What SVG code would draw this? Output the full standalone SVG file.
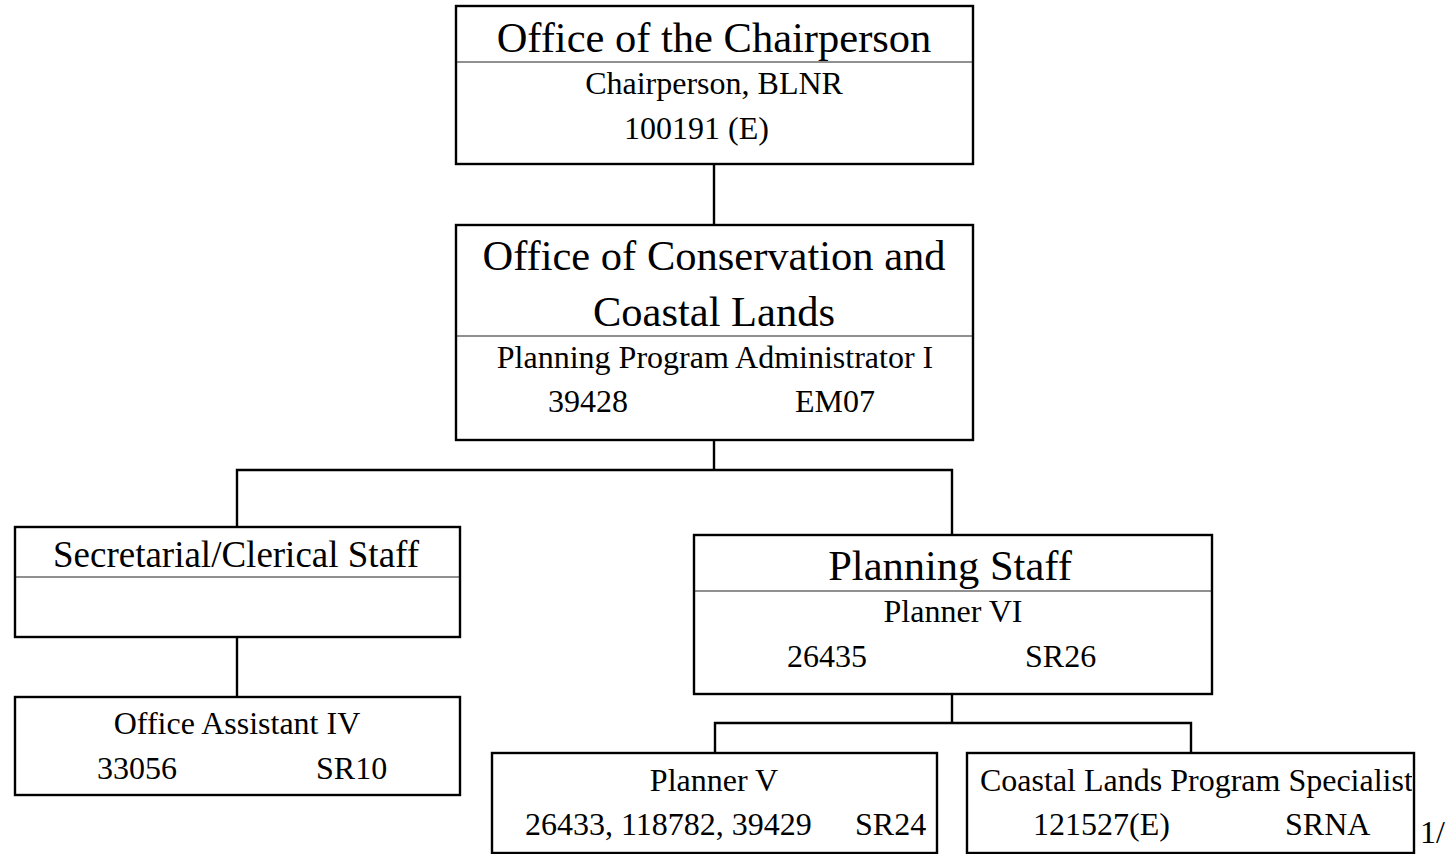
<svg xmlns="http://www.w3.org/2000/svg" width="1451" height="854" viewBox="0 0 1451 854">
<style>
.box{fill:#fff;stroke:#000;stroke-width:2.4}
.div{stroke:#222;stroke-width:1.2}
.conn{fill:none;stroke:#000;stroke-width:2.4}
text{font-family:"Liberation Serif","Times New Roman",serif;fill:#000}
.t{font-size:42.5px}
.t2{font-size:37px}
.s{font-size:32px}
.c{text-anchor:middle}
</style>
<defs>
<clipPath id="clipCoastal"><rect x="967" y="753" width="445" height="100"/></clipPath>
</defs>
<rect width="1451" height="854" fill="#fff"/>
<g id="connectors">
<path class="conn" d="M714 164 V225"/>
<path class="conn" d="M714 440 V470 M237 527 V470 H952 V535"/>
<path class="conn" d="M237 637 V697"/>
<path class="conn" d="M952 694 V723 M715 753 V723 H1191 V753"/>
</g>
<g id="chair">
<rect class="box" x="456" y="6" width="517" height="158"/>
<line class="div" x1="457" y1="62" x2="972" y2="62"/>
<text class="t c" x="714" y="52">Office of the Chairperson</text>
<text class="s c" x="714" y="94">Chairperson, BLNR</text>
<text class="s" x="624" y="139">100191 (E)</text>
</g>
<g id="occl">
<rect class="box" x="456" y="225" width="517" height="215"/>
<line class="div" x1="457" y1="336" x2="972" y2="336"/>
<text class="t c" x="714" y="270">Office of Conservation and</text>
<text class="t c" x="714" y="326">Coastal Lands</text>
<text class="s c" x="715" y="368">Planning Program Administrator I</text>
<text class="s" x="548" y="412">39428</text>
<text class="s" x="795" y="412">EM07</text>
</g>
<g id="secretarial">
<rect class="box" x="15" y="527" width="445" height="110"/>
<line class="div" x1="16" y1="577" x2="459" y2="577"/>
<text class="t2 c" x="236" y="567">Secretarial/Clerical Staff</text>
</g>
<g id="officeAssistant">
<rect class="box" x="15" y="697" width="445" height="98"/>
<text class="s c" x="237" y="734">Office Assistant IV</text>
<text class="s" x="97" y="779">33056</text>
<text class="s" x="316" y="779">SR10</text>
</g>
<g id="planningStaff">
<rect class="box" x="694" y="535" width="518" height="159"/>
<line class="div" x1="695" y1="591" x2="1211" y2="591"/>
<text class="t c" x="950" y="580">Planning Staff</text>
<text class="s c" x="953" y="622">Planner VI</text>
<text class="s" x="787" y="667">26435</text>
<text class="s" x="1025" y="667">SR26</text>
</g>
<g id="plannerV">
<rect class="box" x="492" y="753" width="445" height="100"/>
<text class="s c" x="714" y="791">Planner V</text>
<text class="s" x="525" y="835">26433, 118782, 39429</text>
<text class="s" x="855" y="835">SR24</text>
</g>
<g id="coastalSpecialist">
<rect class="box" x="967" y="753" width="447" height="100"/>
<text class="s" x="980" y="791" clip-path="url(#clipCoastal)">Coastal Lands Program Specialist</text>
<text class="s" x="1033" y="835">121527(E)</text>
<text class="s" x="1285" y="835">SRNA</text>
</g>
<text class="s" x="1420" y="843">1/</text>
</svg>
